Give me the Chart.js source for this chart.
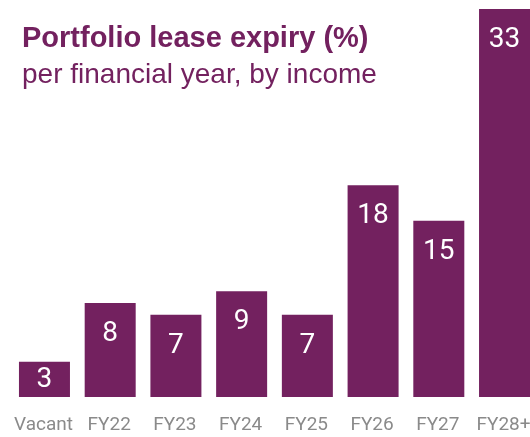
<!DOCTYPE html>
<html>
<head>
<meta charset="utf-8">
<script src="https://cdn.jsdelivr.net/npm/chart.js@4/dist/chart.umd.min.js"></script>
<style>
  html, body { margin: 0; padding: 0; background: #fff; overflow: hidden; }
  #expiryChart { position: absolute; left: 0; top: 0; }
</style>
</head>
<body>
<canvas id="expiryChart" width="538" height="454"></canvas>
<script>
// chart data
const categories = ['Vacant', 'FY22', 'FY23', 'FY24', 'FY25', 'FY26', 'FY27', 'FY28+'];
const expiryPct = [3, 8, 7, 9, 7, 18, 15, 33];

const titleText = 'Portfolio lease expiry (%)';
const subtitleText = 'per financial year, by income';

const purple = '#73215f';
const labelFont = 'Roboto, "Liberation Sans", sans-serif';

// white value inside the top of each bar
const valueLabels = {
    id: 'valueLabels',
    afterDatasetsDraw(chart) {
        const ctx = chart.ctx;
        const meta = chart.getDatasetMeta(0);
        ctx.save();
        ctx.fillStyle = '#ffffff';
        ctx.font = '28px ' + labelFont;
        ctx.textAlign = 'center';
        ctx.textBaseline = 'middle';
        meta.data.forEach((bar, i) => {
            const h = bar.base - bar.y;
            const y = bar.y + Math.min(30, h / 2);
            ctx.fillText(String(expiryPct[i]), bar.x, y + 1);
        });
        ctx.restore();
    }
};

// heading top left
const heading = {
    id: 'heading',
    afterDraw(chart) {
        const ctx = chart.ctx;
        ctx.save();
        ctx.fillStyle = purple;
        ctx.textAlign = 'left';
        ctx.textBaseline = 'alphabetic';
        ctx.font = 'bold 29px "Liberation Sans", Arial, sans-serif';
        ctx.fillText(titleText, 22, 47);
        ctx.font = '28px "Liberation Sans", Arial, sans-serif';
        ctx.fillText(subtitleText, 22, 83);
        ctx.restore();
    }
};

const ctx = document.getElementById('expiryChart').getContext('2d');
new Chart(ctx, {
    type: 'bar',
    data: {
        labels: categories,
        datasets: [{
            data: expiryPct,
            backgroundColor: purple,
            borderWidth: 0,
            categoryPercentage: 1.0,
            barPercentage: 0.776
        }]
    },
    options: {
        responsive: false,
        animation: false,
        layout: {
            padding: { top: 9, bottom: 0, left: 11.6, right: 0.6 }
        },
        plugins: {
            legend: { display: false },
            tooltip: { enabled: false }
        },
        scales: {
            x: {
                grid: { display: false, drawTicks: false },
                border: { display: false },
                ticks: {
                    color: '#8a8a8a',
                    padding: 0,
                    labelOffset: -1,
                    maxRotation: 0,
                    minRotation: 0,
                    autoSkip: false,
                    font: { family: labelFont, size: 19, lineHeight: 3 }
                }
            },
            y: {
                display: false,
                min: 0,
                max: 33
            }
        }
    },
    plugins: [valueLabels, heading]
});
</script>
</body>
</html>
